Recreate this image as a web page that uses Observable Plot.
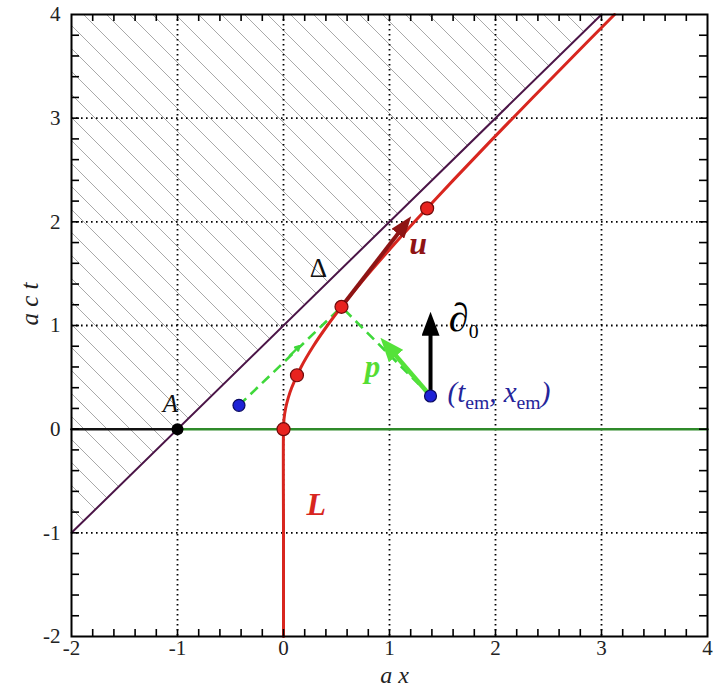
<!DOCTYPE html>
<html><head><meta charset="utf-8">
<script src="https://cdn.jsdelivr.net/npm/d3@7"></script>
<script src="https://cdn.jsdelivr.net/npm/@observablehq/plot@0.6"></script>
<style>body{margin:0;background:#fff}#chart svg{display:block}#chart svg text{font-family:"Liberation Serif","DejaVu Serif","Times New Roman",serif !important}</style>
</head><body><div id="chart"></div>
<script>
// ---- data ----
const axisTicks = [-2, -1, 0, 1, 2, 3, 4];
const gridTicks = [-1, 0, 1, 2, 3];
const minorTicks = [-1.8,-1.6,-1.4,-1.2,-1,-0.8,-0.6,-0.4,-0.2,0,0.2,0.4,0.6,0.8,1,1.2,1.4,1.6,1.8,2,2.2,2.4,2.6,2.8,3,3.2,3.4,3.6,3.8];

// world line L of the accelerated observer (a x, a c t)
const worldT = [-2, -1, 0, 0.1, 0.2, 0.3, 0.4, 0.6, 0.8, 1.0, 1.2, 1.4, 1.6, 1.8, 2.0, 2.4, 2.8, 3.2, 3.6, 4.0];
const worldX = [0, 0, 0, 0.005, 0.0198, 0.0440, 0.0770, 0.1662, 0.2806, 0.4142, 0.5620, 0.7205, 0.8868, 1.0591, 1.2361, 1.6, 1.9732, 2.3526, 2.7363, 3.1231];

// events on L
const eventX = [0, 0.127, 0.547, 1.355];
const eventT = [0, 0.52, 1.18, 2.13];

// horizon Δ
const horizonX = [-2, 3];
const horizonT = [-1, 4];
const hatchTop = [4, 4];

// t = 0 slice
const sliceBlackX = [-2, -1];
const sliceGreenX = [-1, 4];
const sliceT = [0, 0];

// point A
const pointAX = [-1];
const pointAT = [0];

// emission events (blue)
const sourceX = [-0.42, 1.387];
const sourceT = [0.23, 0.32];

// null rays (dashed) : from source to reception event
const rayX1 = [-0.42, 1.387], rayT1 = [0.23, 0.32];
const rayX2 = [0.547, 0.547], rayT2 = [1.18, 1.18];

// small arrowhead on first ray
const rayArrowX1 = [0.06], rayArrowT1 = [0.71], rayArrowX2 = [0.15], rayArrowT2 = [0.80];

// vectors: u, p, ∂0 (start -> shaft end)
const vecUX = [0.547, 1.09], vecUT = [1.18, 1.90];
const vecPX = [1.387, 1.05], vecPT = [0.32, 0.72];
const vecDX = [1.387, 1.387], vecDT = [0.32, 0.92];

// labels
const labelText = ["A", "Δ", "u", "∂_0", "p", "(t_em, x_em)", "L"];
const labelX = [-1.066, 0.33, 1.27, 1.56, 0.84, 1.547, 0.31];
const labelT = [0.24, 1.55, 1.79, 1.07, 0.60, 0.35, -0.73];

// ---- build ----
const seg = (xs, ts) => xs.map((x, i) => ({x, t: ts[i]}));
const world = seg(worldX, worldT);
const events = seg(eventX, eventT);
const hatch = horizonX.map((x, i) => ({x, t1: horizonT[i], t2: hatchTop[i]}));
const rays = rayX1.map((x, i) => ({x1: x, t1: rayT1[i], x2: rayX2[i], t2: rayT2[i]}));
const rayArrow = rayArrowX1.map((x, i) => ({x1: x, t1: rayArrowT1[i], x2: rayArrowX2[i], t2: rayArrowT2[i]}));
const vec = (xs, ts) => [{x1: xs[0], t1: ts[0], x2: xs[1], t2: ts[1]}];
const labels = labelText.map((text, i) => ({text, x: labelX[i], t: labelT[i]}));
const lab = (i) => [labels[i]];

const serif = "Liberation Serif";
const W = 714, H = 691, ML = 71, MR = 7, MT = 14, MB = 55;
const frameW = W - ML - MR, frameH = H - MT - MB;
const tickLen = 7;

const chart = Plot.plot({
  width: W,
  height: H,
  marginLeft: ML,
  marginRight: MR,
  marginTop: MT,
  marginBottom: MB,
  x: {domain: [-2, 4]},
  y: {domain: [-2, 4]},
  style: {fontFamily: serif, background: "#fff", color: "#222"},
  marks: [
    Plot.areaY(hatch, {x: "x", y1: "t1", y2: "t2", fill: "url(#hatch)"}),
    Plot.gridX({ticks: gridTicks, stroke: "#000", strokeOpacity: 1, strokeWidth: 1.8, strokeDasharray: "1.6,3.4"}),
    Plot.gridY({ticks: gridTicks, stroke: "#000", strokeOpacity: 1, strokeWidth: 1.8, strokeDasharray: "1.6,3.4"}),
    Plot.line(seg(horizonX, horizonT), {x: "x", y: "t", stroke: "#4b1547", strokeWidth: 2}),
    Plot.line(seg(sliceBlackX, sliceT), {x: "x", y: "t", stroke: "#111", strokeWidth: 2.5}),
    Plot.line(seg(sliceGreenX, sliceT), {x: "x", y: "t", stroke: "#2f8a2a", strokeWidth: 2.5}),
    Plot.link(rays, {x1: "x1", y1: "t1", x2: "x2", y2: "t2", stroke: "#3fd83a", strokeWidth: 2.6, strokeDasharray: "10,6"}),
    Plot.arrow(rayArrow, {x1: "x1", y1: "t1", x2: "x2", y2: "t2", stroke: "#3fd83a", strokeWidth: 2.4, headLength: 11}),
    Plot.line(world, {x: "x", y: "t", stroke: "#d8261f", strokeWidth: 3, curve: "catmull-rom"}),
    Plot.link(vec(vecUX, vecUT), {x1: "x1", y1: "t1", x2: "x2", y2: "t2", stroke: "#8e1414", strokeWidth: 4, className: "vec-u"}),
    Plot.link(vec(vecPX, vecPT), {x1: "x1", y1: "t1", x2: "x2", y2: "t2", stroke: "#55e23a", strokeWidth: 4.5, className: "vec-p"}),
    Plot.link(vec(vecDX, vecDT), {x1: "x1", y1: "t1", x2: "x2", y2: "t2", stroke: "#000", strokeWidth: 4, className: "vec-d"}),
    Plot.dot(events, {x: "x", y: "t", r: 6.5, fill: "#e8231f", stroke: "#6e0a0a", strokeWidth: 1.2}),
    Plot.dot(seg(pointAX, pointAT), {x: "x", y: "t", r: 6, fill: "#000"}),
    Plot.dot(seg(sourceX, sourceT), {x: "x", y: "t", r: 6, fill: "#1d22d6", stroke: "#0a0a60", strokeWidth: 1.2}),
    Plot.text(lab(0), {x: "x", y: "t", text: "text", fontSize: 25, fontStyle: "italic", fill: "#111"}),
    Plot.text(lab(1), {x: "x", y: "t", text: "text", fontSize: 27, fill: "#111"}),
    Plot.text(lab(2), {x: "x", y: "t", text: "text", fontSize: 32, fontStyle: "italic", fontWeight: "bold", fill: "#8e1414"}),
    Plot.text(lab(3), {x: "x", y: "t", text: "text", fontSize: 40, textAnchor: "start", fill: "#000", className: "sub"}),
    Plot.text(lab(4), {x: "x", y: "t", text: "text", fontSize: 31, fontStyle: "italic", fontWeight: "bold", fill: "#55dd33"}),
    Plot.text(lab(5), {x: "x", y: "t", text: "text", fontSize: 29, fontStyle: "italic", textAnchor: "start", fill: "#25259a", className: "sub"}),
    Plot.text(lab(6), {x: "x", y: "t", text: "text", fontSize: 32, fontStyle: "italic", fontWeight: "bold", fill: "#d8261f"}),
    // inward minor ticks on all four sides
    Plot.tickX(minorTicks, {x: d => d, insetTop: frameH - tickLen, stroke: "#000", strokeWidth: 1.6}),
    Plot.tickX(minorTicks, {x: d => d, insetBottom: frameH - tickLen, stroke: "#000", strokeWidth: 1.6}),
    Plot.tickY(minorTicks, {y: d => d, insetRight: frameW - tickLen - 1, stroke: "#000", strokeWidth: 1.6}),
    Plot.tickY(minorTicks, {y: d => d, insetLeft: frameW - tickLen - 1, stroke: "#000", strokeWidth: 1.6}),
    Plot.frame({stroke: "#000", strokeWidth: 2}),
    Plot.axisX({ticks: axisTicks, anchor: "bottom", tickSize: 0, tickPadding: 4, fontSize: 21, label: null, tickFormat: d => String(d)}),
    Plot.axisY({ticks: axisTicks, anchor: "left", tickSize: 0, tickPadding: 11, fontSize: 21, label: null, tickFormat: d => String(d)}),
    Plot.text(["a x"], {text: d => d, frameAnchor: "bottom", dy: 46, dx: 5, fontSize: 24, fontStyle: "italic", fill: "#222"}),
    Plot.text(["a c t"], {text: d => d, frameAnchor: "left", dx: -42, rotate: -90, fontSize: 25, fontStyle: "italic", fill: "#222"})
  ]
});

const svg = d3.select(chart.tagName.toLowerCase() === "svg" ? chart : chart.querySelector("svg"));
svg.insert("defs", ":first-child").html(`
  <pattern id="hatch" patternUnits="userSpaceOnUse" width="23" height="23">
    <path d="M-2,-2L25,25M-2,21L2,25M21,-2L25,2" stroke="#9a9a9a" stroke-width="0.85" fill="none"/>
  </pattern>
  <marker id="head-u" markerUnits="userSpaceOnUse" viewBox="0 0 22 16" markerWidth="22" markerHeight="16" refX="2" refY="8" orient="auto"><path d="M0,0L22,8L0,16z" fill="#8e1414"/></marker>
  <marker id="head-p" markerUnits="userSpaceOnUse" viewBox="0 0 24 19" markerWidth="24" markerHeight="19" refX="2" refY="9.5" orient="auto"><path d="M0,0L24,9.5L0,19z" fill="#55e23a"/></marker>
  <marker id="head-d" markerUnits="userSpaceOnUse" viewBox="0 0 24 18" markerWidth="24" markerHeight="18" refX="2" refY="9" orient="auto"><path d="M0,0L24,9L0,18z" fill="#000"/></marker>
`);
svg.selectAll(".vec-u path").attr("marker-end", "url(#head-u)");
svg.selectAll(".vec-p path").attr("marker-end", "url(#head-p)");
svg.selectAll(".vec-d path").attr("marker-end", "url(#head-d)");

// subscripts
svg.selectAll(".sub text").each(function () {
  const el = d3.select(this);
  const size = parseFloat(getComputedStyle(this).fontSize) || 24;
  const parts = this.textContent.split(/(_\w+)/).filter(p => p);
  el.text(null);
  let shifted = false;
  parts.forEach(p => {
    if (p.startsWith("_")) {
      el.append("tspan").attr("dy", size * 0.3).attr("font-size", size * 0.82).attr("font-style", "normal").text(p.slice(1));
      shifted = true;
    } else {
      const ts = el.append("tspan").text(p);
      if (shifted) { ts.attr("dy", -size * 0.3); shifted = false; }
    }
  });
});

document.getElementById("chart").appendChild(chart);
</script>
</body></html>
